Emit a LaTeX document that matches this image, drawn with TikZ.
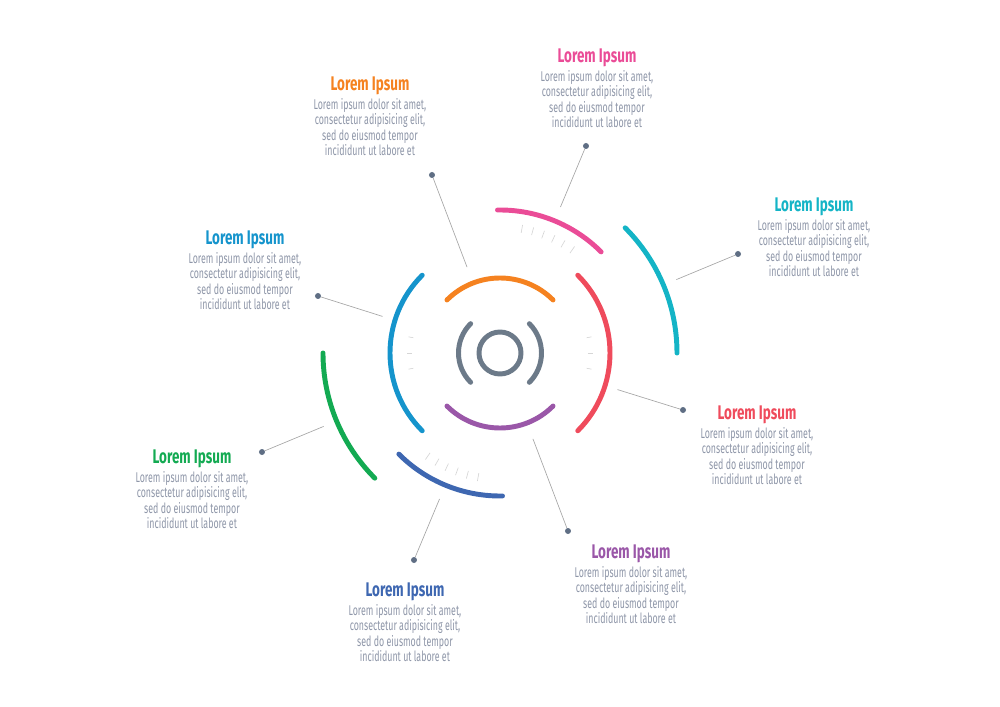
\documentclass[tikz,border=0pt]{standalone}
\usepackage{fontspec}
\setmainfont{Fira Sans}[FakeStretch=0.68]
\newfontfamily\bodyfont{Fira Sans}[FakeStretch=0.625]
\usetikzlibrary{positioning}

\definecolor{corange}{HTML}{F58220}
\definecolor{cpink}{HTML}{EA4C97}
\definecolor{cteal}{HTML}{14B4C6}
\definecolor{cred}{HTML}{EF4B5C}
\definecolor{cpurple}{HTML}{9A57A8}
\definecolor{cnavy}{HTML}{3E67B1}
\definecolor{cgreen}{HTML}{13AA52}
\definecolor{cblue}{HTML}{1594CC}
\definecolor{ringgray}{HTML}{6C7A89}
\definecolor{txtgray}{HTML}{8E96A8}
\definecolor{dotgray}{HTML}{5F6E84}

\newcommand{\loremtext}{Lorem ipsum dolor sit amet,\\ consectetur adipisicing elit,\\ sed do eiusmod tempor\\ incididunt ut labore et}

\begin{document}
\begin{tikzpicture}
    [x=0.75pt, y=0.75pt,
    seg/.style={line width=3.7pt, line cap=round},
    tickmark/.style={draw=black!16, line width=0.5pt},
    lead/.style={draw=black!35, line width=0.5pt},
    pin/.style={circle, fill=dotgray, inner sep=0pt, minimum size=4.5pt},
    head/.style={font=\fontsize{14.8}{17}\selectfont\bfseries, inner sep=0pt},
    body/.style={font=\bodyfont\fontsize{10.6}{11.6}\selectfont, text=txtgray,
        align=center, inner sep=0pt, below=2.5pt of #1}]
    \useasboundingbox (-500,-354) rectangle (500,353);

    % centre
    \draw[seg, ringgray] (0,0) circle[radius=15.75pt];
    \draw[seg, ringgray] (135:41.5) arc[start angle=135, end angle=225, radius=31.1pt];
    \draw[seg, ringgray] (-45:41.5) arc[start angle=-45, end angle=45, radius=31.1pt];

    % arcs
    \draw[seg, corange] (45:75) arc[start angle=45, end angle=135, radius=56.25pt];
    \draw[seg, cpurple] (225:75) arc[start angle=225, end angle=315, radius=56.25pt];
    \draw[seg, cblue] (135:110) arc[start angle=135, end angle=225, radius=82.5pt];
    \draw[seg, cred] (-45:110) arc[start angle=-45, end angle=45, radius=82.5pt];
    \draw[seg, cpink] (45:143) arc[start angle=45, end angle=91, radius=107.25pt];
    \draw[seg, cnavy] (225:143) arc[start angle=225, end angle=271, radius=107.25pt];
    \draw[seg, cteal] (0:177) arc[start angle=0, end angle=45, radius=132.75pt];
    \draw[seg, cgreen] (180:177) arc[start angle=180, end angle=225, radius=132.75pt];

    % ticks
    \foreach \a in {55,60,...,80,235,240,...,260}
        \draw[tickmark] (\a:122) -- (\a:130);
    \foreach \a in {-10,0,10,170,180,190}
        \draw[tickmark] (\a:88) -- (\a:93);

    % leaders
    \node[pin] (opin) at (-68,178) {};
    \node[pin] (ppin) at (86,207) {};
    \node[pin] (tpin) at (238,99) {};
    \node[pin] (rpin) at (183,-57) {};
    \node[pin] (upin) at (68,-178) {};
    \node[pin] (npin) at (-86,-207) {};
    \node[pin] (gpin) at (-238,-99) {};
    \node[pin] (bpin) at (-182,57) {};
    \coordinate (oend) at (111:92);
    \coordinate (pend) at (67.5:158);
    \coordinate (tend) at (22.6:191);
    \coordinate (rend) at (-17.3:123);
    \coordinate (uend) at (-69:92);
    \coordinate (nend) at (247.5:158);
    \coordinate (gend) at (202.6:191);
    \coordinate (bend) at (162.7:123);
    \foreach \k in {o,p,t,r,u,n,g,b}
        \draw[lead] (\k end) -- (\k pin);

    % labels
    \node[head, text=corange] (otitle) at (-130,267.5) {Lorem Ipsum};
    \node[body=otitle] (obody) {\loremtext};
    \node[head, text=cpink] (ptitle) at (97,295.5) {Lorem Ipsum};
    \node[body=ptitle] (pbody) {\loremtext};
    \node[head, text=cteal] (ttitle) at (314,146.5) {Lorem Ipsum};
    \node[body=ttitle] (tbody) {\loremtext};
    \node[head, text=cblue] (btitle) at (-255,113.5) {Lorem Ipsum};
    \node[body=btitle] (bbody) {\loremtext};
    \node[head, text=cred] (rtitle) at (257,-61.5) {Lorem Ipsum};
    \node[body=rtitle] (rbody) {\loremtext};
    \node[head, text=cgreen] (gtitle) at (-308,-105.5) {Lorem Ipsum};
    \node[body=gtitle] (gbody) {\loremtext};
    \node[head, text=cpurple] (utitle) at (131,-200.5) {Lorem Ipsum};
    \node[body=utitle] (ubody) {\loremtext};
    \node[head, text=cnavy] (ntitle) at (-95,-238.5) {Lorem Ipsum};
    \node[body=ntitle] (nbody) {\loremtext};
\end{tikzpicture}
\end{document}
